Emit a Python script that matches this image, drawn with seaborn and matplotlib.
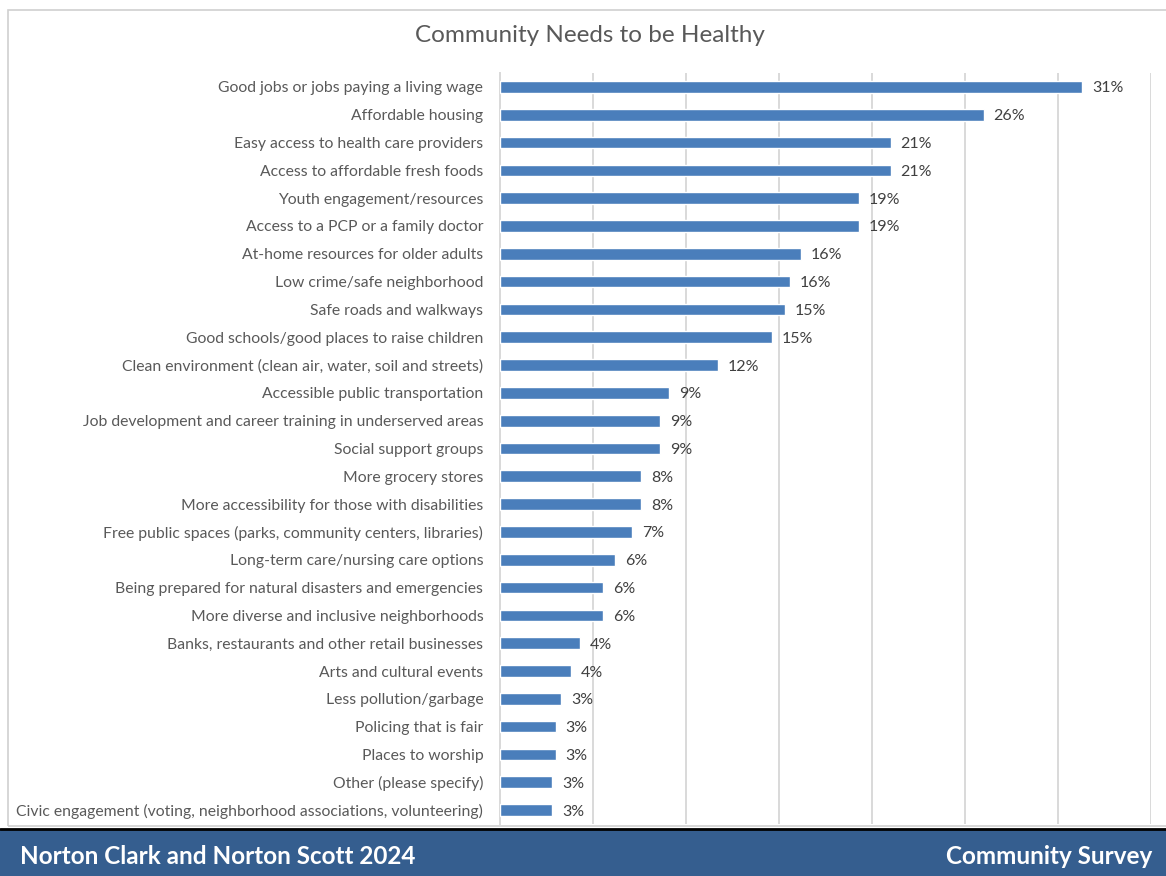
import matplotlib
matplotlib.use("Agg")
import matplotlib.pyplot as plt
import matplotlib.patches as mpatches
import seaborn as sns
import pandas as pd

# Survey responses: share of respondents choosing each community need (%)
categories = [
    "Good jobs or jobs paying a living wage",
    "Affordable housing",
    "Easy access to health care providers",
    "Access to affordable fresh foods",
    "Youth engagement/resources",
    "Access to a PCP or a family doctor",
    "At-home resources for older adults",
    "Low crime/safe neighborhood",
    "Safe roads and walkways",
    "Good schools/good places to raise children",
    "Clean environment (clean air, water, soil and streets)",
    "Accessible public transportation",
    "Job development and career training in underserved areas",
    "Social support groups",
    "More grocery stores",
    "More accessibility for those with disabilities",
    "Free public spaces (parks, community centers, libraries)",
    "Long-term care/nursing care options",
    "Being prepared for natural disasters and emergencies",
    "More diverse and inclusive neighborhoods",
    "Banks, restaurants and other retail businesses",
    "Arts and cultural events",
    "Less pollution/garbage",
    "Policing that is fair",
    "Places to worship",
    "Other (please specify)",
    "Civic engagement (voting, neighborhood associations, volunteering)",
]
percentages = [
    31.3, 26.0, 21.0, 21.0, 19.3, 19.3, 16.2, 15.6, 15.3, 14.6,
    11.7, 9.1, 8.6, 8.6, 7.6, 7.6, 7.1, 6.2, 5.55, 5.55,
    4.3, 3.8, 3.3, 3.0, 3.0, 2.8, 2.8,
]

title = "Community Needs to be Healthy"
footer_left = "Norton Clark and Norton Scott 2024"
footer_right = "Community Survey"

df = pd.DataFrame({"need": categories, "pct": percentages})

sns.set_theme(style="white")
plt.rcParams["font.family"] = ["Lato", "DejaVu Sans"]

W, H = 1166, 876
fig = plt.figure(figsize=(W / 100, H / 100), dpi=100)
fig.patch.set_facecolor("white")

# light chart frame
fig.add_artist(mpatches.Rectangle((8 / W, 1 - 826 / H), 1.2, (826 - 10) / H,
                                  transform=fig.transFigure, fill=False,
                                  edgecolor="#D0D0D0", linewidth=1.2))

ax = fig.add_axes([500 / W, 1 - 824 / H, 651 / W, 751 / H])
bar_color = "#4A7EBB"
sns.barplot(data=df, x="pct", y="need", color=bar_color, width=0.42,
            saturation=1, ax=ax, zorder=3)

ax.set_xlim(0, 35)
ax.set_xticks(range(0, 36, 5))
ax.set_xticklabels([])
ax.grid(axis="x", color="#D9D9D9", linewidth=1.4, zorder=0)
ax.grid(axis="y", visible=False)
for side in ["top", "right", "bottom"]:
    ax.spines[side].set_visible(False)
ax.spines["left"].set_color("#D9D9D9")
ax.spines["left"].set_linewidth(1.4)
ax.tick_params(axis="both", length=0)
ax.tick_params(axis="y", labelsize=11.3, labelcolor="#595959", pad=12)
ax.set_xlabel("")
ax.set_ylabel("")

texts = ax.bar_label(ax.containers[0], labels=[f"{v:.0f}%" for v in percentages],
                     padding=7, fontsize=11.5, color="#404040")
for t in texts:
    t.set_va("center_baseline")

fig.text(590 / W, 1 - 36 / H, title, ha="center", va="center",
         fontsize=17.5, color="#595959")

# footer band
fig.add_artist(mpatches.Rectangle((0, 0), 1, (876 - 829) / H,
                                  transform=fig.transFigure,
                                  facecolor="#355E8F", edgecolor="none"))
fig.add_artist(plt.Line2D([0, 1], [1 - 829 / H] * 2, transform=fig.transFigure,
                          color="black", linewidth=2))
fig.text(20 / W, 1 - 857 / H, footer_left, ha="left", va="center",
         fontsize=17.5, color="white", fontweight="bold")
fig.text(1152 / W, 1 - 857 / H, footer_right, ha="right", va="center",
         fontsize=17.5, color="white", fontweight="bold")

fig.savefig("out.png", dpi=100)
